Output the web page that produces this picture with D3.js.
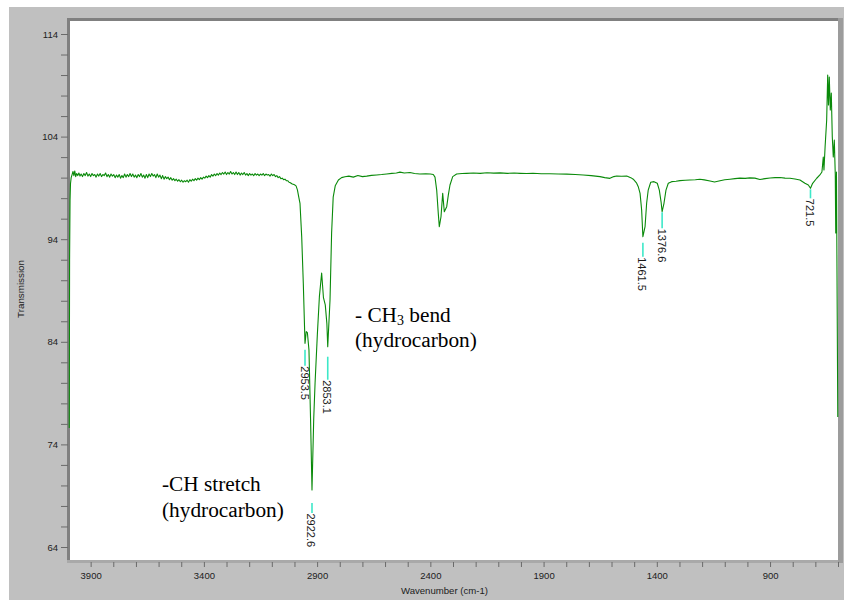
<!DOCTYPE html>
<html>
<head>
<meta charset="utf-8">
<script src="https://cdn.jsdelivr.net/npm/d3@7"></script>
<style>
  html, body { margin: 0; padding: 0; background: #ffffff; }
  svg { display: block; }
  .tick text { font-family: Arial, "Liberation Sans", sans-serif; }
</style>
</head>
<body>
<svg id="chart" width="844" height="600"></svg>
<script>
// ---- FT-IR spectrum: [wavenumber (cm-1), transmission] ----
const spectrum = [
  [3994.5, 75.6], [3993, 92.0], [3991, 97.8], [3989, 99.4], [3986, 100.0], [3982, 100.3],
  [3978, 100.6], [3974, 100.2], [3970, 100.65], [3966, 100.1], [3962, 100.4], [3957, 100.2],
  [3952, 100.45], [3947, 100.15], [3942, 100.35], [3936, 100.1], [3930, 100.4], [3924, 100.2],
  [3918, 100.5], [3912, 100.15], [3906, 100.35], [3900, 100.1], [3894, 100.4], [3888, 100.2],
  [3882, 100.3], [3876, 100.05], [3870, 100.35], [3864, 100.15], [3858, 100.4], [3852, 100.1],
  [3846, 100.3], [3840, 100.2], [3834, 100.45], [3828, 100.1], [3822, 100.3], [3816, 100.05],
  [3810, 100.35], [3804, 100.15], [3798, 100.3], [3792, 100.0], [3786, 100.25], [3780, 100.05],
  [3774, 100.3], [3768, 99.95], [3762, 100.2], [3756, 100.0], [3750, 100.35], [3744, 100.05],
  [3738, 100.3], [3732, 100.1], [3726, 100.4], [3720, 100.1], [3714, 100.35], [3708, 100.05],
  [3702, 100.25], [3696, 100.0], [3690, 100.3], [3684, 100.1], [3678, 100.4], [3672, 100.05],
  [3666, 100.25], [3660, 99.95], [3654, 100.3], [3648, 100.0], [3642, 100.35], [3636, 100.1],
  [3630, 100.4], [3624, 100.15], [3618, 100.3], [3612, 100.0], [3606, 100.35], [3600, 100.05],
  [3594, 100.25], [3588, 99.9], [3582, 100.2], [3576, 99.85], [3570, 100.1], [3564, 99.9],
  [3558, 100.05], [3552, 99.8], [3546, 100.0], [3540, 99.75], [3534, 99.9], [3528, 99.7],
  [3522, 99.85], [3516, 99.65], [3510, 99.8], [3504, 99.6], [3498, 99.75], [3492, 99.55],
  [3486, 99.7], [3480, 99.6], [3474, 99.75], [3468, 99.55], [3462, 99.8], [3456, 99.65],
  [3450, 99.85], [3444, 99.7], [3438, 99.9], [3432, 99.75], [3426, 99.95], [3420, 99.8],
  [3414, 100.0], [3408, 99.85], [3402, 100.05], [3396, 99.95], [3390, 100.15], [3384, 100.0],
  [3378, 100.2], [3372, 100.05], [3366, 100.3], [3360, 100.15], [3354, 100.35], [3348, 100.2],
  [3342, 100.4], [3336, 100.25], [3330, 100.45], [3324, 100.3], [3318, 100.5], [3312, 100.35],
  [3306, 100.55], [3300, 100.3], [3294, 100.5], [3288, 100.35], [3282, 100.6], [3276, 100.35],
  [3270, 100.5], [3264, 100.3], [3258, 100.55], [3252, 100.3], [3246, 100.5], [3240, 100.25],
  [3234, 100.45], [3228, 100.3], [3222, 100.5], [3216, 100.25], [3210, 100.4], [3204, 100.2],
  [3198, 100.4], [3192, 100.25], [3186, 100.35], [3180, 100.2], [3174, 100.4], [3168, 100.25],
  [3162, 100.35], [3156, 100.2], [3150, 100.35], [3144, 100.25], [3138, 100.4], [3132, 100.2],
  [3126, 100.35], [3120, 100.25], [3114, 100.3], [3108, 100.15], [3102, 100.35], [3096, 100.2],
  [3090, 100.3], [3084, 100.1], [3078, 100.2], [3072, 100.0], [3066, 100.1], [3060, 99.9],
  [3054, 99.95], [3048, 99.8], [3042, 99.85], [3036, 99.7], [3030, 99.7], [3024, 99.55],
  [3018, 99.5], [3012, 99.4], [3006, 99.35], [3000, 99.3], [2993, 99.2], [2987, 98.8],
  [2981, 98.1], [2975.6, 97.5], [2968, 94.2], [2961, 89.7], [2953.5, 83.85], [2948, 85.0],
  [2943, 84.9], [2936, 83.2], [2929, 76.5], [2922.6, 69.56], [2915, 76.5], [2909, 80.0],
  [2899, 84.7], [2890, 88.4], [2880, 90.7], [2872, 88.3], [2864, 87.6], [2857, 85.8],
  [2853.1, 83.52], [2843, 88.1], [2836, 94.6], [2829, 98.1], [2820, 99.2], [2806, 99.77],
  [2792, 100.0], [2777, 100.09], [2760, 100.15], [2740, 100.05], [2720, 100.2], [2700, 100.1],
  [2681, 100.15], [2660, 100.22], [2637, 100.26], [2615, 100.3], [2593, 100.36], [2570, 100.42],
  [2550, 100.45], [2534, 100.54], [2515, 100.45], [2490, 100.5], [2470, 100.4], [2446, 100.35],
  [2420, 100.38], [2400, 100.35], [2387, 100.3], [2379.5, 100.05], [2372, 98.79], [2365, 96.52],
  [2360.5, 95.22], [2353, 96.19], [2345.5, 98.47], [2338.4, 96.68], [2327.8, 97.17], [2320.7, 98.3],
  [2313.3, 99.28], [2301.3, 100.1], [2284, 100.35], [2260, 100.4], [2240, 100.42], [2210, 100.45],
  [2180, 100.42], [2150, 100.48], [2120, 100.44], [2092, 100.46], [2060, 100.42], [2030, 100.45],
  [2004, 100.42], [1975, 100.4], [1947, 100.43], [1910, 100.38], [1872, 100.38], [1835, 100.36],
  [1798, 100.34], [1760, 100.3], [1725, 100.26], [1690, 100.2], [1651, 100.1], [1630, 100.0],
  [1607, 99.93], [1590, 100.1], [1577, 100.16], [1555, 100.14], [1533, 100.16], [1515, 100.0],
  [1504, 99.85], [1490, 99.5], [1482, 99.12], [1474, 98.47], [1467, 96.85], [1461.5, 94.24],
  [1452, 95.22], [1445, 97.5], [1438, 98.79], [1427, 99.55], [1412.5, 99.61], [1398, 99.45],
  [1389, 98.79], [1381, 97.6], [1376.6, 96.68], [1368.4, 97.5], [1359.6, 98.79], [1349.4, 99.45],
  [1334.4, 99.61], [1315, 99.65], [1298, 99.71], [1275, 99.74], [1254, 99.77], [1230, 99.8],
  [1210, 99.84], [1190, 99.78], [1165, 99.68], [1145, 99.58], [1121, 99.7], [1100, 99.8],
  [1077, 99.85], [1055, 99.9], [1033, 99.95], [1010, 99.93], [989, 99.98], [967, 99.95],
  [945, 99.82], [922, 99.9], [900, 99.97], [878, 100.0], [856, 100.02], [834, 99.95],
  [812, 99.94], [790, 99.87], [768, 99.77], [746, 99.45], [731, 99.28], [721.5, 98.96],
  [712, 99.45], [694, 99.94], [680, 100.26], [671, 100.55], [665, 102.01], [662, 100.75],
  [657, 102.99], [650, 105.62], [645.5, 110.0], [642, 107.08], [638.5, 109.81], [634, 106.59],
  [629.6, 108.25], [625.2, 103.96], [620.8, 102.01], [616.3, 103.67], [612, 100.26], [610, 94.6],
  [606.8, 100.55], [601, 76.67]
];

// ---- labelled peaks ----
const peakWavenumbers = [2953.5, 2922.6, 2853.1, 1461.5, 1376.6, 721.5];
const peakTransmission = [83.85, 69.56, 83.52, 94.24, 96.68, 98.96];
const peakLabels = ["2953.5", "2922.6", "2853.1", "1461.5", "1376.6", "721.5"];

// ---- axis ticks ----
const xTickValues = d3.range(3900, 599, -100);
const xLabelValues = [3900, 3400, 2900, 2400, 1900, 1400, 900];
const yTickValues = d3.range(64, 115, 2);
const yLabelValues = [64, 74, 84, 94, 104, 114];

// ---- band assignments ----
const annotations = [
  { lines: [["-CH stretch"], ["(hydrocarbon)"]], x: 162, y: 491 },
  { lines: [["- CH", "3", " bend"], ["(hydrocarbon)"]], x: 355, y: 321.5 }
];

// ---- layout ----
const W = 844, H = 600;
const plot = { left: 70, top: 21, right: 838, bottom: 560 };
// stem offset below each peak and stem length (px)
const stemGap = [6.5, 13, 10, 6, 0.5, 1];
const stemLen = [16, 10, 23, 14, 16, 9];

const svg = d3.select("#chart");

const x = d3.scaleLinear().domain([4000, 600]).range([68, 838]);
const y = d3.scaleLinear().domain([64, 114]).range([547, 34]);

// frame background
svg.append("rect").attr("x", 9).attr("y", 7).attr("width", W - 9).attr("height", H - 7)
  .attr("fill", "#c0c0c0");

// plot area
svg.append("rect").attr("x", plot.left).attr("y", plot.top)
  .attr("width", plot.right - plot.left).attr("height", plot.bottom - plot.top)
  .attr("fill", "#ffffff");

// sunken border
svg.append("rect").attr("x", 67).attr("y", 18).attr("width", 776).attr("height", 3).attr("fill", "#808080");
svg.append("rect").attr("x", 67).attr("y", 18).attr("width", 3).attr("height", 545).attr("fill", "#808080");
svg.append("rect").attr("x", 67).attr("y", 560).attr("width", 776).attr("height", 3).attr("fill", "#a9a9a9");
svg.append("rect").attr("x", 838).attr("y", 18).attr("width", 5).attr("height", 545).attr("fill", "#9c9c9c");

// y axis
const yAxis = d3.axisLeft(y)
  .tickValues(yTickValues)
  .tickSize(7)
  .tickPadding(3)
  .tickFormat(d => yLabelValues.includes(d) ? String(d) : "");
const gy = svg.append("g").attr("transform", "translate(68,0)").call(yAxis);
gy.select(".domain").remove();
gy.selectAll(".tick line").attr("stroke", "#6a6a6a");
gy.selectAll(".tick text").attr("fill", "#202020").style("font-size", "9.5px");

// x axis
const xAxis = d3.axisBottom(x)
  .tickValues(xTickValues)
  .tickSize(5)
  .tickPadding(5)
  .tickFormat(d => xLabelValues.includes(d) ? String(d) : "");
const gx = svg.append("g").attr("transform", "translate(0,562)").call(xAxis);
gx.select(".domain").remove();
gx.selectAll(".tick line").attr("stroke", "#6a6a6a");
gx.selectAll(".tick text").attr("fill", "#202020").style("font-size", "9.5px");

// axis titles
svg.append("text")
  .attr("x", 444.5).attr("y", 594)
  .attr("text-anchor", "middle")
  .style("font-family", "Arial, 'Liberation Sans', sans-serif")
  .style("font-size", "9.6px")
  .attr("fill", "#202020")
  .text("Wavenumber (cm-1)");

svg.append("text")
  .attr("transform", "translate(24,289) rotate(-90)")
  .attr("text-anchor", "middle")
  .style("font-family", "Arial, 'Liberation Sans', sans-serif")
  .style("font-size", "9.8px")
  .attr("fill", "#202020")
  .text("Transmission");

// spectrum trace
const line = d3.line().x(d => x(d[0])).y(d => y(d[1]));
svg.append("path")
  .datum(spectrum)
  .attr("d", line)
  .attr("fill", "none")
  .attr("stroke", "#0a8a0a")
  .attr("stroke-width", 1.1)
  .attr("stroke-linejoin", "round");

// peak markers and labels
peakWavenumbers.forEach((wn, i) => {
  const px = x(wn);
  const top = y(peakTransmission[i]) + stemGap[i];
  svg.append("line")
    .attr("x1", px).attr("x2", px)
    .attr("y1", top).attr("y2", top + stemLen[i])
    .attr("stroke", "#3de8c8")
    .attr("stroke-width", 1.6);
  svg.append("text")
    .attr("transform", `translate(${px - 0.5},${top + stemLen[i] + 0.5}) rotate(90)`)
    .attr("dominant-baseline", "central")
    .style("font-family", "Arial, 'Liberation Sans', sans-serif")
    .style("font-size", "11px")
    .attr("fill", "#1a1a1a")
    .text(peakLabels[i]);
});

// band annotations
annotations.forEach(a => {
  a.lines.forEach((parts, li) => {
    const t = svg.append("text")
      .attr("x", a.x).attr("y", a.y + li * 25.5)
      .style("font-family", "'Times New Roman', 'Liberation Serif', serif")
      .style("font-size", "21.3px")
      .attr("fill", "#000000");
    parts.forEach((p, pi) => {
      const ts = t.append("tspan").text(p);
      if (parts.length === 3 && pi === 1) {
        ts.style("font-size", "14px").attr("dy", 3);
      } else if (parts.length === 3 && pi === 2) {
        ts.attr("dy", -3);
      }
    });
  });
});
</script>
</body>
</html>
